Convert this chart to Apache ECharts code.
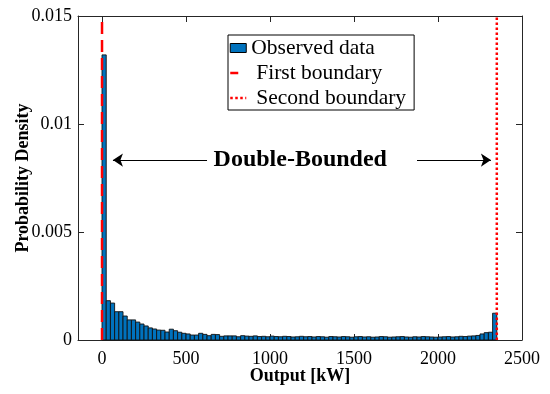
<!DOCTYPE html>
<html>
<head>
<meta charset="utf-8">
<script src="https://cdn.jsdelivr.net/npm/echarts@6/dist/echarts.min.js"></script>
<style>
html,body{margin:0;padding:0;background:#fff;}
#chart{width:550px;height:394px;}
</style>
</head>
<body>
<div id="chart"></div>
<script>
// ---- data ----
const binStart = 0;
const binWidth = 25; // kW
const densities = [
  0.0132, 0.00182, 0.00171, 0.00131, 0.00131, 0.00111, 0.00093, 0.00093, 0.00083, 0.00074,
  0.00065, 0.00056, 0.00051, 0.00046, 0.00045, 0.00037, 0.00050, 0.00043, 0.00036, 0.00031,
  0.00028, 0.00023, 0.00023, 0.00031, 0.00026, 0.00020, 0.00026, 0.00025, 0.00017, 0.00019,
  0.00019, 0.00019, 0.00015, 0.00020, 0.00018, 0.00017, 0.00019, 0.00016, 0.00017, 0.00015,
  0.00018, 0.00016, 0.00015, 0.00017, 0.00016, 0.00014, 0.00015, 0.00017, 0.00015, 0.00016,
  0.00014, 0.00016, 0.00015, 0.00013, 0.00016, 0.00015, 0.00014, 0.00016, 0.00015, 0.00013,
  0.00015, 0.00016, 0.00014, 0.00015, 0.00013, 0.00014, 0.00016, 0.00015, 0.00013, 0.00014,
  0.00015, 0.00016, 0.00014, 0.00013, 0.00015, 0.00014, 0.00016, 0.00015, 0.00014, 0.00013,
  0.00014, 0.00015, 0.00016, 0.00014, 0.00015, 0.00017, 0.00016, 0.00018, 0.00019, 0.00021,
  0.00028, 0.00034, 0.00036, 0.00124
];
const firstBoundary = 0;
const secondBoundary = 2350;
const xTicks = [0, 500, 1000, 1500, 2000, 2500];
const yTicks = [0, 0.005, 0.01, 0.015];
const xRange = [-143, 2500];
const yRange = [0, 0.015];
const annotationY = 0.00833;
const leftArrow = [625, 65];
const rightArrow = [1875, 2315];
const annotationX = 1180;
const annotationText = 'Double-Bounded';

// ---- build ----
const histData = densities.map((d, i) => [binStart + i * binWidth, binStart + (i + 1) * binWidth, d]);
const FONT = '"Liberation Serif", "Times New Roman", serif';
const AX = '#262626';

const chart = echarts.init(document.getElementById('chart'), null, {renderer: 'canvas'});
const baseX = {
  type: 'value', min: xRange[0], max: xRange[1],
  axisLine: {show: true, onZero: false, lineStyle: {color: AX, width: 1}},
  axisTick: {show: true, inside: true, length: 6, customValues: xTicks, lineStyle: {color: AX}},
  splitLine: {show: false}
};
const baseY = {
  type: 'value', min: yRange[0], max: yRange[1], interval: 0.005,
  axisLine: {show: true, onZero: false, lineStyle: {color: AX, width: 1}},
  axisTick: {show: true, inside: true, length: 6, customValues: yTicks, lineStyle: {color: AX}},
  splitLine: {show: false}
};
const option = {
  animation: false,
  backgroundColor: '#fff',
  grid: {left: 78, right: 28, top: 16, bottom: 54, containLabel: false, outerBoundsMode: 'none'},
  xAxis: [
    Object.assign({}, baseX, {
      position: 'bottom',
      name: 'Output [kW]', nameLocation: 'middle', nameGap: 27, nameMoveOverlap: false,
      nameTextStyle: {fontFamily: FONT, fontSize: 18, fontWeight: 'bold', color: '#000'},
      axisLabel: {show: true, customValues: xTicks, margin: 10, fontFamily: FONT, fontSize: 18, color: '#000',
        formatter: v => String(v)}
    }),
    Object.assign({}, baseX, {position: 'top', axisLabel: {show: false}})
  ],
  yAxis: [
    Object.assign({}, baseY, {
      position: 'left',
      name: 'Probability Density', nameLocation: 'middle', nameGap: 46, nameMoveOverlap: false,
      nameTextStyle: {fontFamily: FONT, fontSize: 18, fontWeight: 'bold', color: '#000'},
      axisLabel: {show: true, customValues: yTicks, margin: 6, fontFamily: FONT, fontSize: 18, color: '#000',
        formatter: v => String(v)}
    }),
    Object.assign({}, baseY, {position: 'right', axisLabel: {show: false}})
  ],
  legend: {
    orient: 'vertical', left: 228, top: 35,
    backgroundColor: '#fff', borderColor: '#000', borderWidth: 1,
    padding: [2, 8, 1, 1], itemGap: 3, itemWidth: 16, itemHeight: 9,
    textStyle: {fontFamily: FONT, fontSize: 21.5, color: '#000'},
    data: [
      {name: 'Observed data', icon: 'rect', itemStyle: {color: '#0072BD', borderColor: '#000', borderWidth: 1}},
      {name: 'First boundary', textStyle: {padding: [0, 0, 0, 5]}, itemStyle: {opacity: 0},
        lineStyle: {type: [8, 20], width: 2.5, color: '#FF0000'}},
      {name: 'Second boundary', textStyle: {padding: [0, 0, 0, 5]}, itemStyle: {opacity: 0},
        lineStyle: {type: [2.5, 2.5], width: 2.5, color: '#FF0000'}}
    ]
  },
  series: [
    {
      name: 'Observed data', type: 'custom', xAxisIndex: 0, yAxisIndex: 0,
      itemStyle: {color: '#0072BD', borderColor: '#000', borderWidth: 1},
      encode: {x: [0, 1], y: 2},
      data: histData,
      renderItem: function (params, api) {
        const p0 = api.coord([api.value(0), api.value(2)]);
        const p1 = api.coord([api.value(1), 0]);
        return {
          type: 'rect',
          shape: {x: p0[0], y: p0[1], width: p1[0] - p0[0], height: p1[1] - p0[1]},
          style: {fill: '#0072BD', stroke: '#111', lineWidth: 0.9}
        };
      }
    },
    {
      name: 'First boundary', type: 'line', symbol: 'none', z: 5,
      lineStyle: {color: '#FF0000', width: 2.5, type: [12, 6]},
      itemStyle: {color: '#FF0000'},
      data: [[firstBoundary, yRange[0]], [firstBoundary, yRange[1]]]
    },
    {
      name: 'Second boundary', type: 'line', symbol: 'none', z: 5,
      lineStyle: {color: '#FF0000', width: 2.5, type: [2.5, 2.5]},
      itemStyle: {color: '#FF0000'},
      data: [[secondBoundary, yRange[0]], [secondBoundary, yRange[1]]]
    },
    {
      name: 'arrows', type: 'lines', coordinateSystem: 'cartesian2d', z: 6,
      symbol: ['none', 'arrow'], symbolSize: [8, 10],
      lineStyle: {color: '#000', width: 1.2, opacity: 1},
      data: [
        {coords: [[leftArrow[0], annotationY], [leftArrow[1], annotationY]]},
        {coords: [[rightArrow[0], annotationY], [rightArrow[1], annotationY]]}
      ]
    },
    {
      name: 'annotation', type: 'scatter', symbolSize: 0, z: 7,
      itemStyle: {opacity: 1},
      data: [[annotationX, annotationY]],
      label: {show: true, position: 'inside', formatter: annotationText, opacity: 1,
        fontFamily: FONT, fontSize: 24, fontWeight: 'bold', color: '#000', textBorderWidth: 0}
    }
  ]
};
chart.setOption(option);
</script>
</body>
</html>
